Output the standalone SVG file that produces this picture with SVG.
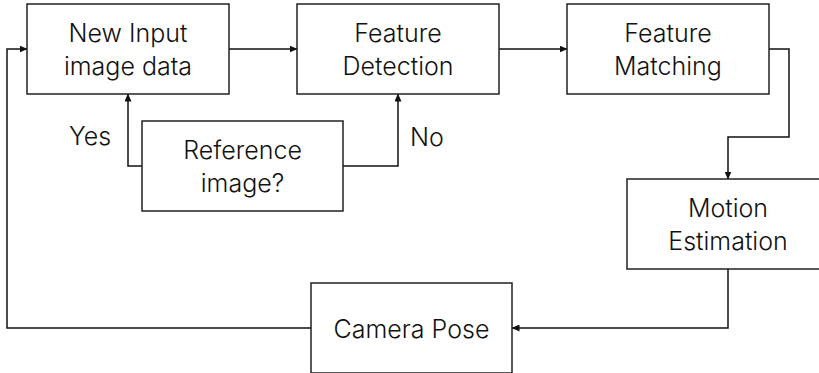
<svg xmlns="http://www.w3.org/2000/svg" width="819" height="373" viewBox="0 0 819 373">
<defs>
<style>
.box{fill:#fff;stroke:#222;stroke-width:1.5}
.lbl{font-family:Inter,"Open Sans","Liberation Sans",sans-serif;font-size:25px;font-weight:300;fill:#111;text-anchor:middle}
.conn{fill:none;stroke:#111;stroke-width:1.5}
</style>
<marker id="arr" markerUnits="userSpaceOnUse" markerWidth="8" markerHeight="7" refX="7.5" refY="3.5" orient="auto">
<path d="M0,0 L8,3.5 L0,7 Z" fill="#111"/>
</marker>
</defs>
<rect width="819" height="373" fill="#fff"/>
<g id="connectors">
<path class="conn" d="M229,49 H297" marker-end="url(#arr)"/>
<path class="conn" d="M499,49 H567" marker-end="url(#arr)"/>
<path class="conn" d="M769,49 H789 V137 H728 V179" marker-end="url(#arr)"/>
<path class="conn" d="M728,269 V328 H512" marker-end="url(#arr)"/>
<path class="conn" d="M311,328 H7 V49 H27" marker-end="url(#arr)"/>
<path class="conn" d="M142,166 H128 V94" marker-end="url(#arr)"/>
<path class="conn" d="M343,166 H398 V94" marker-end="url(#arr)"/>
<text class="lbl" x="90" y="145">Yes</text>
<text class="lbl" x="427" y="146">No</text>
</g>
<g id="new-input">
<rect class="box" x="27" y="4" width="202" height="90"/>
<text class="lbl" x="128" y="42">New Input</text>
<text class="lbl" x="128" y="75">image data</text>
</g>
<g id="feature-detection">
<rect class="box" x="297" y="4" width="202" height="90"/>
<text class="lbl" x="398" y="42">Feature</text>
<text class="lbl" x="398" y="75">Detection</text>
</g>
<g id="feature-matching">
<rect class="box" x="567" y="4" width="202" height="90"/>
<text class="lbl" x="668" y="42">Feature</text>
<text class="lbl" x="668" y="75">Matching</text>
</g>
<g id="reference-image">
<rect class="box" x="142" y="121" width="201" height="90"/>
<text class="lbl" x="242.5" y="159">Reference</text>
<text class="lbl" x="242.5" y="192">image?</text>
</g>
<g id="motion-estimation">
<rect class="box" x="627" y="179" width="202" height="90"/>
<text class="lbl" x="728" y="217">Motion</text>
<text class="lbl" x="728" y="250">Estimation</text>
</g>
<g id="camera-pose">
<rect class="box" x="311" y="283" width="201" height="90"/>
<text class="lbl" x="411.5" y="338">Camera Pose</text>
</g>
</svg>
